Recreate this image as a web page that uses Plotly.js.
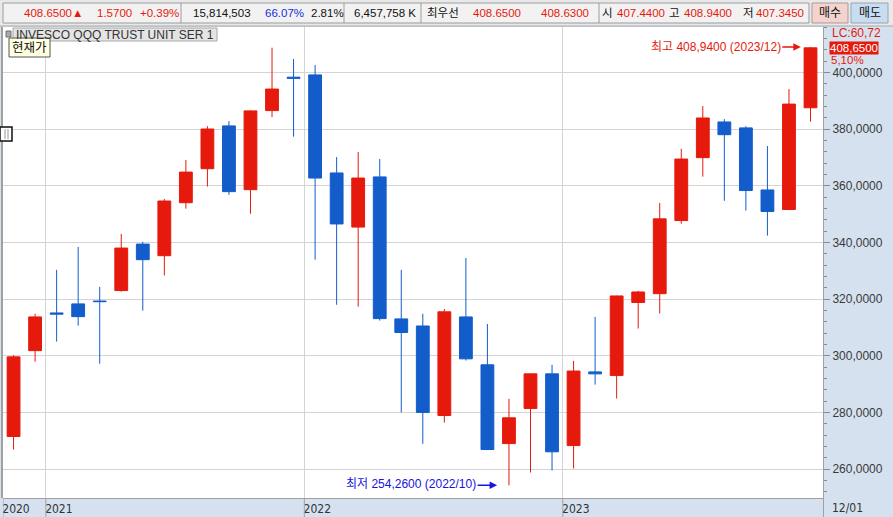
<!DOCTYPE html>
<html><head><meta charset="utf-8">
<script src="https://cdn.plot.ly/plotly-3.0.1.min.js"></script>
<style>html,body{margin:0;padding:0;background:#fff;overflow:hidden}#chart{width:893px;height:517px}</style>
</head><body><div id="chart"></div>
<script>
// ---- data (monthly candles, QQQ) ----
const months = ['2020/11','2020/12','2021/01','2021/02','2021/03','2021/04','2021/05','2021/06','2021/07','2021/08','2021/09','2021/10','2021/11','2021/12',
  '2022/01','2022/02','2022/03','2022/04','2022/05','2022/06','2022/07','2022/08','2022/09','2022/10','2022/11','2022/12',
  '2023/01','2023/02','2023/03','2023/04','2023/05','2023/06','2023/07','2023/08','2023/09','2023/10','2023/11','2023/12'];
const openP  = [271.5,301.8,315.1,318.3,319.3,323.0,339.4,335.3,354.0,366.0,381.1,358.6,386.5,398.3,
  399.1,364.5,345.4,363.1,313.0,310.5,278.9,313.7,296.8,269.0,281.4,293.6,
  268.3,294.3,293.0,318.8,321.9,347.7,369.9,382.5,380.4,358.5,351.6,387.5];
const highP  = [300.2,314.8,330.3,338.4,324.3,343.0,340.2,355.3,369.1,381.0,382.8,386.6,408.7,404.7,
  402.6,370.1,371.9,369.4,330.3,314.8,316.5,334.5,311.2,284.8,293.7,296.8,
  298.2,313.7,321.2,322.9,353.9,373.0,388.1,383.5,381.0,374.0,394.1,408.94];
const lowP   = [266.9,297.9,305.0,310.6,297.2,322.6,315.9,328.3,351.9,359.7,356.8,350.1,384.2,377.3,
  333.9,318.0,317.3,312.4,280.0,268.9,276.4,298.3,266.8,254.26,258.8,259.5,
  260.2,289.8,284.9,309.6,314.9,346.6,363.2,354.7,351.2,342.4,351.5,382.6];
const closeP = [299.6,313.7,314.7,313.8,319.1,338.0,333.9,354.6,364.8,380.0,357.9,386.4,394.1,397.9,
  362.7,346.5,362.7,313.1,308.2,280.0,315.5,298.9,266.9,278.1,293.6,266.1,
  294.6,293.6,321.1,322.5,348.3,369.4,383.9,378.0,358.3,350.9,388.8,408.65];
const yTickVals = [260,280,300,320,340,360,380,400];
const headerTexts = ['408.6500▲','1.5700','+0.39%','15,814,503','66.07%','2.81%','6,457,758 K','최우선','408.6500','408.6300','시','407.4400','고','408.9400','저','407.3450'];
const titleText = 'INVESCO QQQ TRUST UNIT SER 1';
const maxLabel = '최고 408,9400 (2023/12)';
const minLabel = '최저 254,2600 (2022/10)';

// ---- styling / layout helpers ----
const RED = '#E61A0C', BLUE = '#135DCB';
const L = 3, T = 27, W = 820, H = 471;
const px = x => (x - L) / W;
const py = y => 1 - (y - T) / H;
const idx = months.map((_, i) => i);
const XR = [-0.49, 37.58];

// year boundary ticks derived from the month list
const tickPos = [XR[0]], tickTxt = [months[0].slice(0, 4)];
months.forEach((m, i) => { if (i > 0 && m.endsWith('/01')) { tickPos.push(i - 0.5); tickTxt.push(m.slice(0, 4)); } });

const iMax = highP.indexOf(Math.max(...highP));
const iMin = lowP.indexOf(Math.min(...lowP));

const FONT = 'Liberation Sans, Noto Sans CJK KR, sans-serif';
const NARROW = 'Liberation Sans Narrow, DejaVu Sans Condensed, ' + FONT;
const shapes = [];
const ann = [];
function rect(x0, y0, x1, y1, fill, line, lw) {
  shapes.push({type: 'rect', xref: 'paper', yref: 'paper', x0: px(x0), x1: px(x1), y0: py(y0), y1: py(y1),
    fillcolor: fill, line: {color: line || fill, width: lw === undefined ? 1 : lw}, layer: 'above'});
}
function vline(x, y0, y1, color, w) {
  shapes.push({type: 'line', xref: 'paper', yref: 'paper', x0: px(x), x1: px(x), y0: py(y0), y1: py(y1), line: {color: color, width: w || 1}, layer: 'above'});
}
function text(t, x, y, color, anchor, size, family) {
  ann.push({text: t, xref: 'paper', yref: 'paper', x: px(x), y: py(y), xanchor: anchor || 'left', yanchor: 'middle',
    showarrow: false, borderpad: 0, font: {family: family || FONT, size: size || 12, color: color}});
}

// header bar
rect(0, 0, 893, 26, '#E9E9E9', '#E9E9E9', 0);
rect(3, 3, 809, 23, '#F2F2F2', '#9C9C9C', 1);
[181, 344, 421, 599].forEach(x => vline(x, 3, 23, '#9C9C9C', 1));
rect(812, 3, 848, 23, '#F4D2CD', '#A79B9B', 1);
rect(851, 3, 888, 23, '#C8DCF2', '#98A5B3', 1);
shapes.push({type: 'line', xref: 'paper', yref: 'paper', x0: px(0), x1: px(893), y0: py(26), y1: py(26), line: {color: '#A8A8A8', width: 1}, layer: 'above'});
const hc = [RED, RED, RED, '#111', '#1530D8', '#111', '#111', '#111', RED, RED, '#111', RED, '#111', RED, '#111', RED];
const hxc = [53, 114.5, 159.5, 221.5, 284, 327, 385, 442.5, 496.5, 564.5, 607, 640.5, 674.5, 707.5, 748, 780];
headerTexts.forEach((t, i) => text(t, hxc[i], 13, hc[i], 'center', 11.5));
text('매수', 830, 13, '#111', 'center', 12);
text('매도', 869.5, 13, '#111', 'center', 12);

// left border & left icon
vline(2, 27, 498, '#A0A0A0', 2);
rect(0, 127, 12, 141, '#FFFFFF', '#111', 1.5);
vline(5, 129, 139, '#999', 1); vline(8, 129, 139, '#999', 1);
// title box & tooltip
rect(6, 31, 11, 37, '#A8A8A8', '#707070', 1);
rect(13, 28, 217, 41, '#E4E4E4', '#A8A8A8', 1);
text(titleText, 115, 35, '#333', 'center', 12);
rect(9, 38, 50, 57, '#FFFFE1', '#555', 1);
text('현재가', 29.5, 47.5, '#111', 'center', 12.5);

// right axis panel labels
text('LC:60,72', 856, 33, RED, 'center', 12);
ann.push({text: closeP[closeP.length - 1].toFixed(4).replace('.', ','), xref: 'paper', yref: 'y', x: px(854), y: closeP[closeP.length - 1],
  xanchor: 'center', yanchor: 'middle', showarrow: false, bgcolor: RED, borderpad: 0, font: {family: FONT, size: 11.5, color: '#fff'}});
text('5,10%', 847, 60, RED, 'center', 11.5);
// bottom panel
text('12/01', 847.5, 508, '#333', 'center', 12, NARROW);
tickPos.forEach(p => shapes.push({type: 'line', xref: 'x', yref: 'paper', x0: p, x1: p, y0: py(498), y1: py(517), line: {color: '#A0A0A0', width: 1}, layer: 'above'}));
vline(823.5, 498, 517, '#A0A0A0', 1);

// max / min annotations
ann.push({text: maxLabel, x: iMax - 0.45, y: highP[iMax], xref: 'x', yref: 'y', showarrow: true, ax: -85, ay: 0,
  arrowhead: 2, arrowsize: 1, arrowwidth: 1.5, arrowcolor: RED, standoff: 0, font: {family: FONT, size: 12, color: RED}});
ann.push({text: minLabel, x: iMin - 0.55, y: lowP[iMin], xref: 'x', yref: 'y', showarrow: true, ax: -86, ay: -1,
  arrowhead: 2, arrowsize: 1, arrowwidth: 1.5, arrowcolor: '#1515E0', standoff: 0, font: {family: FONT, size: 12, color: '#1515E0'}});

const trace = {
  type: 'candlestick', x: idx, open: openP, high: highP, low: lowP, close: closeP, text: months,
  increasing: {line: {color: RED, width: 1}, fillcolor: RED},
  decreasing: {line: {color: BLUE, width: 1}, fillcolor: BLUE},
  whiskerwidth: 0, hoverinfo: 'skip'
};

const layout = {
  width: 893, height: 517,
  margin: {l: L, r: 893 - L - W, t: T, b: 517 - T - H, pad: 0},
  paper_bgcolor: '#D5E1EF', plot_bgcolor: '#FFFFFF',
  showlegend: false, hovermode: false, boxgap: 0.15,
  separators: ', ',
  xaxis: {range: XR, tickmode: 'array', tickvals: tickPos, ticktext: tickTxt, ticks: '', showgrid: true, gridcolor: '#D4D4D4', gridwidth: 1,
    zeroline: false, showline: true, linecolor: '#A0A0A0', linewidth: 1, rangeslider: {visible: false}, fixedrange: true,
    ticklabelshift: 13, tickfont: {family: NARROW, size: 12, color: '#333'}},
  yaxis: {side: 'right', range: [249.8, 416.0], tickmode: 'array', tickvals: yTickVals, tickformat: '.4f', ticks: 'outside', ticklen: 6, tickcolor: '#8A8A8A',
    showgrid: true, gridcolor: '#D4D4D4', gridwidth: 1, zeroline: false, showline: true, linecolor: '#A0A0A0', linewidth: 1, fixedrange: true,
    minor: {dtick: 4, tick0: 0, ticks: 'outside', ticklen: 3, tickcolor: '#8A8A8A', showgrid: false},
    tickfont: {family: FONT, size: 12, color: '#3A3A3A'}},
  shapes: shapes, annotations: ann
};
Plotly.newPlot('chart', [trace], layout, {displayModeBar: false, staticPlot: true});
</script></body></html>
